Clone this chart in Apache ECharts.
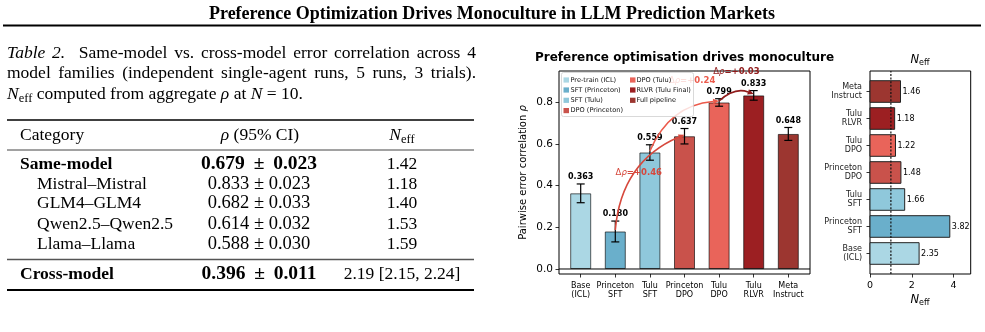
<!DOCTYPE html>
<html><head><meta charset="utf-8">
<script src="https://cdn.jsdelivr.net/npm/echarts@6/dist/echarts.min.js"></script>
<style>html,body{margin:0;padding:0;background:#fff;}#c{width:985px;height:332px;}</style>
</head><body><div id="c"></div>
<script>
// ---------------- data ----------------
const categories = ['Base\n(ICL)', 'Princeton\nSFT', 'Tulu\nSFT', 'Princeton\nDPO', 'Tulu\nDPO', 'Tulu\nRLVR', 'Meta\nInstruct'];
const rhoValues = [0.363, 0.180, 0.559, 0.637, 0.799, 0.833, 0.648];
const rhoErrors = [0.045, 0.050, 0.037, 0.037, 0.018, 0.023, 0.031];
const neffValues = [2.35, 3.82, 1.66, 1.48, 1.22, 1.18, 1.46];
const rhoTicks = [0, 0.2, 0.4, 0.6, 0.8];
const neffTicks = [0, 2, 4];
const neffReference = 1;
const arrowFrom = [1, 2, 4];
const arrowTo = [3, 4, 5];
const arrowDeltas = ['+0.46', '+0.24', '+0.03'];
const arrowLabelAt = [[1.68, 0.46], [3.22, 0.905], [4.5, 0.945]];
const legendLabels = ['Pre-train (ICL)', 'SFT (Princeton)', 'SFT (Tulu)', 'DPO (Princeton)', 'DPO (Tulu)', 'RLVR (Tulu Final)', 'Full pipeline'];
const tableCategories = ['Same-model', 'Mistral\u2013Mistral', 'GLM4\u2013GLM4', 'Qwen2.5\u2013Qwen2.5', 'Llama\u2013Llama', 'Cross-model'];
const tableRhoMean = ['0.679', '0.833', '0.682', '0.614', '0.588', '0.396'];
const tableRhoCI = ['0.023', '0.023', '0.033', '0.032', '0.030', '0.011'];
const tableNeff = ['1.42', '1.18', '1.40', '1.53', '1.59', '2.19 [2.15, 2.24]'];
const tableBold = [true, false, false, false, false, true];

// ---------------- styles ----------------
const barColors = ['#abd7e4', '#6aafcb', '#8fc8db', '#c9524b', '#e9645a', '#9c1f22', '#9c3630'];
const arrowColors = ['#d6483c', '#ec5a4b', '#901b1b'];
const SANS = "'DejaVu Sans', sans-serif";
const SERIF = "'Liberation Serif', 'Times New Roman', serif";
const mctx = document.createElement('canvas').getContext('2d');
function tw(t, f) { mctx.font = f; return mctx.measureText(t).width; }
function F(size, fam, opts) { opts = opts || ''; return opts + ' ' + size + 'px ' + fam; }

function txt(t, x, y, font, align, z, fill) {
  return { type: 'text', x: x, y: y, z: z || 10,
    style: { text: t, font: font, fill: fill || '#000', textAlign: align || 'left', textVerticalAlign: 'middle' } };
}
function seq(parts, x, y, align) {
  const ws = parts.map(p => tw(p.t, p.f));
  const total = ws.reduce((a, b) => a + b, 0);
  let cx = align === 'center' ? x - total / 2 : (align === 'right' ? x - total : x);
  const out = [];
  parts.forEach((p, i) => { out.push(txt(p.t, cx, y + (p.dy || 0), p.f)); cx += ws[i]; });
  return out;
}
function justify(tokens, x, y, width) {
  const ws = tokens.map(p => tw(p.t, p.f));
  const sum = ws.reduce((a, b) => a + b, 0);
  const gw = tokens.slice(1).reduce((a, p) => a + (p.g || 1), 0);
  const gap = (width - sum) / gw;
  let cx = x; const out = [];
  tokens.forEach((p, i) => { if (i > 0) cx += gap * (p.g || 1); out.push(txt(p.t, cx, y, p.f)); cx += ws[i]; });
  return out;
}
function hline(x1, x2, y, w, c) {
  return { type: 'line', z: 10, shape: { x1: x1, y1: y, x2: x2, y2: y }, style: { stroke: c || '#000', lineWidth: w } };
}

// ---------------- page text (graphic) ----------------
const g = [];
const TS = 17.5;
const fN = F(TS, SERIF), fI = F(TS, SERIF, 'italic'), fB = F(TS, SERIF, 'bold');
g.push(txt('Preference Optimization Drives Monoculture in LLM Prediction Markets', 492, 14, F(18, SERIF, 'bold'), 'center'));
g.push(hline(3, 981, 25.5, 2));
// caption
const l1 = [{ t: 'Table', f: fI }, { t: '2.', f: fI }, { t: 'Same-model', f: fN, g: 2 }, { t: 'vs.', f: fN }, { t: 'cross-model', f: fN },
  { t: 'error', f: fN }, { t: 'correlation', f: fN }, { t: 'across', f: fN }, { t: '4', f: fN }];
justify(l1, 7, 53, 469).forEach(e => g.push(e));
const l2 = 'model families (independent single-agent runs, 5 runs, 3 trials).'.split(' ').map(t => ({ t: t, f: fN }));
justify(l2, 7, 73.5, 469).forEach(e => g.push(e));
seq([{ t: 'N', f: fI }, { t: 'eff', f: F(12.5, SERIF), dy: 4.5 }, { t: ' computed from aggregate ', f: fN }, { t: '\u03c1', f: fI },
  { t: ' at ', f: fN }, { t: 'N', f: fI }, { t: ' = 10.', f: fN }], 7, 94).forEach(e => g.push(e));
// table
g.push(hline(7, 474, 120, 1.6));
g.push(txt('Category', 20, 135, fN));
seq([{ t: '\u03c1', f: fI }, { t: ' (95% CI)', f: fN }], 260, 135, 'center').forEach(e => g.push(e));
seq([{ t: 'N', f: fI }, { t: 'eff', f: F(12.5, SERIF), dy: 4.5 }], 402, 135, 'center').forEach(e => g.push(e));
g.push(hline(7, 474, 150, 1, '#444'));
const rowY = [164, 184, 203.5, 224, 244, 274];
const fMB = F(19.5, SERIF, 'bold'), fMN = F(18.5, SERIF);
tableCategories.forEach((c, i) => {
  const b = tableBold[i];
  g.push(txt(c, b ? 20 : 37, rowY[i], b ? fB : fN));
  const pm = b ? ' \u2009\u00b1\u2009 ' : ' \u00b1 ';
  g.push(txt(tableRhoMean[i] + pm + tableRhoCI[i], 259, rowY[i], b ? fMB : fMN, 'center'));
  g.push(txt(tableNeff[i], 402, rowY[i], fN, 'center'));
});
g.push(hline(7, 474, 259.5, 1.3, '#555'));
g.push(hline(7, 474, 290, 1.8));

// chart titles
g.push(txt('Preference optimisation drives monoculture', 684.5, 58, F(12, SANS, 'bold'), 'center'));
seq([{ t: 'N', f: F(11.5, SANS, 'italic') }, { t: 'eff', f: F(8, SANS), dy: 3 }], 920, 60, 'center').forEach(e => g.push(e));
seq([{ t: 'N', f: F(11.5, SANS, 'italic') }, { t: 'eff', f: F(8, SANS), dy: 3 }], 920, 300, 'center').forEach(e => g.push(e));

// legend
g.push({ type: 'rect', z: 100, shape: { x: 561.5, y: 72.5, width: 132, height: 44, r: 2 },
  style: { fill: 'rgba(255,255,255,0.8)', stroke: '#cfcfcf', lineWidth: 0.8 } });
const legendRowY = [80, 90, 100.3, 110.6];
legendLabels.forEach((lab, i) => {
  const col = i < 4 ? 0 : 1, row = i < 4 ? i : i - 4;
  const sx = col === 0 ? 563.5 : 630, tx = col === 0 ? 570.5 : 636.5;
  g.push({ type: 'rect', z: 101, shape: { x: sx, y: legendRowY[row] - 2.6, width: 5.5, height: 5.2 }, style: { fill: barColors[i] } });
  g.push(txt(lab, tx, legendRowY[row], F(6.6, SANS), 'left', 101, '#111'));
});

// ---------------- chart ----------------
const chart = echarts.init(document.getElementById('c'), null, { renderer: 'canvas' });

function renderErr(params, api) {
  const i = api.value(0), v = api.value(1), e = api.value(2);
  const lo = api.coord([i, v - e]), hi = api.coord([i, v + e]);
  const cw = 4;
  return { type: 'group', children: [
    { type: 'line', shape: { x1: lo[0], y1: lo[1], x2: hi[0], y2: hi[1] }, style: { stroke: '#000', lineWidth: 1.2 } },
    { type: 'line', shape: { x1: lo[0] - cw, y1: lo[1], x2: lo[0] + cw, y2: lo[1] }, style: { stroke: '#000', lineWidth: 1.2 } },
    { type: 'line', shape: { x1: hi[0] - cw, y1: hi[1], x2: hi[0] + cw, y2: hi[1] }, style: { stroke: '#000', lineWidth: 1.2 } },
    { type: 'text', x: hi[0], y: hi[1] - 3, style: { text: v.toFixed(3), font: F(8, SANS, 'bold'), fill: '#000', textAlign: 'center', textVerticalAlign: 'bottom' } }
  ] };
}
function renderArrow(params, api) {
  const k = api.value(4);
  const col = arrowColors[k];
  const p1 = api.coord([api.value(0), api.value(1)]);
  const p2 = api.coord([api.value(2), api.value(3)]);
  p1[1] -= 1.5; p2[1] -= 1.5;
  const dx = p2[0] - p1[0], dy = p2[1] - p1[1];
  const rad = 0.3;
  const c = [(p1[0] + p2[0]) / 2 + rad * dy, (p1[1] + p2[1]) / 2 - rad * dx];
  const tx = p2[0] - c[0], ty = p2[1] - c[1], L = Math.hypot(tx, ty), ux = tx / L, uy = ty / L;
  const hl = 6, hw = 2.8;
  const b = [p2[0] - ux * hl, p2[1] - uy * hl];
  const lp = api.coord([api.value(5), api.value(6)]);
  return { type: 'group', children: [
    { type: 'bezierCurve', shape: { x1: p1[0], y1: p1[1], x2: b[0], y2: b[1], cpx1: c[0], cpy1: c[1] }, style: { stroke: col, lineWidth: 1.6, fill: null } },
    { type: 'polygon', shape: { points: [[p2[0], p2[1]], [b[0] - uy * hw, b[1] + ux * hw], [b[0] + uy * hw, b[1] - ux * hw]] }, style: { fill: col } },
    { type: 'text', x: lp[0], y: lp[1], z2: 5, style: { text: '{d|\u0394}{r|\u03c1}{b|=' + arrowDeltas[k] + '}', textAlign: 'center', textVerticalAlign: 'middle',
      rich: { d: { fontSize: 8.5, fontFamily: SANS, fill: col }, r: { fontSize: 8.5, fontFamily: SANS, fontStyle: 'italic', fill: col },
        b: { fontSize: 8.5, fontFamily: SANS, fontWeight: 'bold', fill: col } } } }
  ] };
}
function renderNeff(params, api) {
  const i = api.value(0), v = api.value(1);
  const p0 = api.coord([0, i]), p1 = api.coord([v, i]);
  const h = api.size([0, 0.8])[1];
  return { type: 'group', children: [
    { type: 'rect', shape: { x: p0[0], y: p0[1] - h / 2, width: p1[0] - p0[0], height: h }, style: { fill: barColors[i], stroke: '#222', lineWidth: 1 } },
    { type: 'text', x: p1[0] + 2, y: p1[1], style: { text: v.toFixed(2), font: F(8, SANS), fill: '#000', textAlign: 'left', textVerticalAlign: 'middle' } }
  ] };
}

const idx = categories.map((c, i) => i);
const noLine = { show: false, onZero: false };
const option = {
  animation: false,
  backgroundColor: '#fff',
  grid: [
    { left: 559, top: 71, width: 251, height: 203, show: true, borderColor: '#000', borderWidth: 1, backgroundColor: 'transparent' },
    { left: 870, top: 71, width: 100.7, height: 203, show: true, borderColor: '#000', borderWidth: 1, backgroundColor: 'transparent' }
  ],
  xAxis: [
    { type: 'value', gridIndex: 0, min: -0.627, max: 6.627, splitLine: { show: false }, axisLine: noLine,
      axisTick: { show: true, customValues: idx, length: 3.5, lineStyle: { color: '#000', width: 0.8 } },
      axisLabel: { customValues: idx, formatter: v => categories[Math.round(v)], fontSize: 8, lineHeight: 9.5, fontFamily: SANS, color: '#000', margin: 7 } },
    { type: 'value', gridIndex: 1, min: 0, max: 4.82, splitLine: { show: false }, axisLine: noLine,
      axisTick: { show: true, customValues: neffTicks, length: 3.5, lineStyle: { color: '#000', width: 0.8 } },
      axisLabel: { customValues: neffTicks, formatter: v => String(Math.round(v)), fontSize: 9.5, fontFamily: SANS, color: '#000', margin: 7 } }
  ],
  yAxis: [
    { type: 'value', gridIndex: 0, min: -0.024, max: 0.95, splitLine: { show: false }, axisLine: noLine,
      axisTick: { show: true, customValues: rhoTicks, length: 3.5, lineStyle: { color: '#000', width: 0.8 } },
      axisLabel: { customValues: rhoTicks, formatter: v => v.toFixed(1), fontSize: 10.5, fontFamily: SANS, color: '#000', margin: 6 },
      name: '{t|Pairwise error correlation }{r|\u03c1}', nameLocation: 'middle', nameGap: 31,
      nameTextStyle: { rich: { t: { fontSize: 10, fontFamily: SANS, color: '#000' }, r: { fontSize: 10, fontFamily: SANS, fontStyle: 'italic', color: '#000' } } } },
    { type: 'value', gridIndex: 1, min: -0.76, max: 6.76, splitLine: { show: false }, axisLine: noLine,
      axisTick: { show: true, customValues: idx, length: 3.5, lineStyle: { color: '#000', width: 0.8 } },
      axisLabel: { customValues: idx, formatter: v => categories[Math.round(v)], fontSize: 8, lineHeight: 9.5, fontFamily: SANS, color: '#222', margin: 8, align: 'right' } }
  ],
  graphic: { elements: g },
  series: [
    { type: 'bar', xAxisIndex: 0, yAxisIndex: 0, barWidth: 21, z: 2,
      data: rhoValues.map((v, i) => ({ value: [i, v], itemStyle: { color: barColors[i] } })),
      itemStyle: { borderColor: 'rgba(0,0,0,0.62)', borderWidth: 1 } },
    { type: 'line', xAxisIndex: 0, yAxisIndex: 0, data: [[-0.627, 0], [6.627, 0]], symbol: 'none', silent: true, z: 3,
      lineStyle: { color: '#000', width: 1 } },
    { type: 'custom', xAxisIndex: 0, yAxisIndex: 0, z: 4, renderItem: renderErr,
      data: rhoValues.map((v, i) => [i, v, rhoErrors[i]]) },
    { type: 'custom', xAxisIndex: 0, yAxisIndex: 0, z: 5, renderItem: renderArrow,
      data: arrowFrom.map((f, k) => [f, rhoValues[f], arrowTo[k], rhoValues[arrowTo[k]], k, arrowLabelAt[k][0], arrowLabelAt[k][1]]) },
    { type: 'custom', xAxisIndex: 1, yAxisIndex: 1, z: 2, renderItem: renderNeff,
      data: neffValues.map((v, i) => [i, v]) },
    { type: 'line', xAxisIndex: 1, yAxisIndex: 1, data: [[neffReference, -0.76], [neffReference, 6.76]], symbol: 'none', silent: true, z: 3,
      lineStyle: { color: '#111', width: 1.2, type: [2, 1.6] } }
  ]
};
chart.setOption(option);
</script></body></html>
